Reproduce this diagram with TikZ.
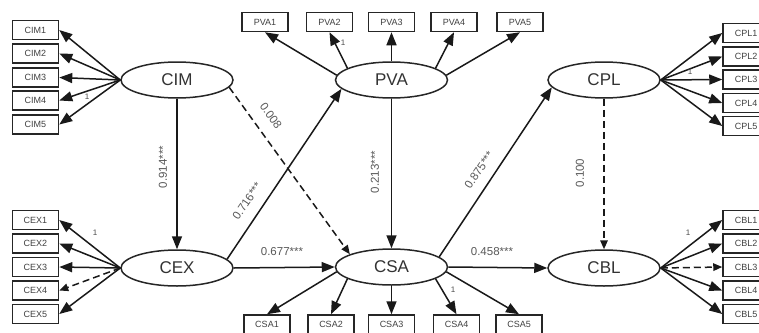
\documentclass[tikz,border=0pt]{standalone}
\usepackage{fontspec}
\setmainfont{Liberation Sans}
\usetikzlibrary{arrows.meta,shapes.geometric}
\begin{document}
\begin{tikzpicture}[x=1pt,y=-1pt,
 lat/.style={ellipse,draw=black!85,line width=1.5pt,minimum width=112pt,minimum height=36pt,inner sep=0pt,font=\fontsize{17}{17}\selectfont,text=black!80},
 ind/.style={rectangle,draw=black!85,line width=1.5pt,minimum width=46pt,minimum height=19pt,inner sep=0pt,font=\fontsize{9}{9}\selectfont,text=black!75},
 arr/.style={line width=1.5pt,draw=black!90,-{Triangle[length=13pt,width=10pt]}},
 darr/.style={line width=1.5pt,draw=black!90,dash pattern=on 7pt off 4pt,-{Triangle[length=9pt,width=7.5pt]}},
 coef/.style={font=\fontsize{11.5}{11.5}\selectfont,text=black!65,inner sep=1pt},
 one/.style={font=\fontsize{8}{8}\selectfont,text=black!70,inner sep=0pt}]
\useasboundingbox (0,0) rectangle (759,332);
\clip (0,0) rectangle (759,332);
\fill[white] (0,0) rectangle (759,332);

% latent variables
\node[lat] (CIM) at (177,80) {CIM};
\node[lat] (CEX) at (177,268) {CEX};
\node[lat] (PVA) at (391.5,80) {PVA};
\node[lat] (CSA) at (391.5,267) {CSA};
\node[lat] (CPL) at (604,80) {CPL};
\node[lat] (CBL) at (604,268) {CBL};

% CIM indicators
\node[ind] (CIM1) at (35.5,30) {CIM1};
\node[ind] (CIM2) at (35.5,53.5) {CIM2};
\node[ind] (CIM3) at (35.5,77.5) {CIM3};
\node[ind] (CIM4) at (35.5,100.5) {CIM4};
\node[ind] (CIM5) at (35.5,124.5) {CIM5};
% CEX indicators
\node[ind] (CEX1) at (35.5,220) {CEX1};
\node[ind] (CEX2) at (35.5,243.5) {CEX2};
\node[ind] (CEX3) at (35.5,267) {CEX3};
\node[ind] (CEX4) at (35.5,290.5) {CEX4};
\node[ind] (CEX5) at (35.5,314) {CEX5};
% PVA indicators
\node[ind] (PVA1) at (265,22) {PVA1};
\node[ind] (PVA2) at (329.5,22) {PVA2};
\node[ind] (PVA3) at (391.5,22) {PVA3};
\node[ind] (PVA4) at (454,22) {PVA4};
\node[ind] (PVA5) at (520,22) {PVA5};
% CSA indicators
\node[ind] (CSA1) at (267,324.5) {CSA1};
\node[ind] (CSA2) at (331,324.5) {CSA2};
\node[ind] (CSA3) at (391.5,324.5) {CSA3};
\node[ind] (CSA4) at (456.5,324.5) {CSA4};
\node[ind] (CSA5) at (519,324.5) {CSA5};
% CPL indicators
\node[ind] (CPL1) at (746,33) {CPL1};
\node[ind] (CPL2) at (746,56.5) {CPL2};
\node[ind] (CPL3) at (746,79.5) {CPL3};
\node[ind] (CPL4) at (746,103) {CPL4};
\node[ind] (CPL5) at (746,126) {CPL5};
% CBL indicators
\node[ind] (CBL1) at (746,220) {CBL1};
\node[ind] (CBL2) at (746,243.5) {CBL2};
\node[ind] (CBL3) at (746,267) {CBL3};
\node[ind] (CBL4) at (746,290.5) {CBL4};
\node[ind] (CBL5) at (746,314) {CBL5};

% measurement arrows
\foreach \i in {1,...,5} \draw[arr] (CIM.west) -- (CIM\i.east);
\foreach \i in {1,2,3,5} \draw[arr] (CEX.west) -- (CEX\i.east);
\draw[darr] (CEX.west) -- (CEX4.east);
\foreach \i in {1,...,5} \draw[arr] (CPL.east) -- (CPL\i.west);
\foreach \i in {1,2,4,5} \draw[arr] (CBL.east) -- (CBL\i.west);
\draw[darr] (CBL.east) -- (CBL3.west);
\draw[arr] (PVA.175) -- (PVA1.south);
\draw[arr] (PVA.165) -- (PVA2.south);
\draw[arr] (PVA.north) -- (PVA3.south);
\draw[arr] (PVA.15) -- (PVA4.south);
\draw[arr] (PVA.5) -- (PVA5.south);
\draw[arr] (CSA.185) -- (CSA1.north);
\draw[arr] (CSA.195) -- (CSA2.north);
\draw[arr] (CSA.south) -- (CSA3.north);
\draw[arr] (CSA.-15) -- (CSA4.north);
\draw[arr] (CSA.-5) -- (CSA5.north);

% structural paths
\draw[arr] (CIM.south) -- (CEX.north);
\draw[darr] (CIM.-8) -- (CSA.163);
\draw[arr] (CEX.10) -- (PVA.190);
\draw[arr] (CEX.east) -- (CSA.west);
\draw[arr] (PVA.south) -- (CSA.north);
\draw[arr] (CSA.12) -- (CPL.188);
\draw[arr] (CSA.east) -- (CBL.west);
\draw[darr] (CPL.south) -- (CBL.north);

% coefficients
\node[coef,rotate=90] (c1) at (163,167) {0.914***};
\node[coef,rotate=-54] (c2) at (271,116) {0.008};
\node[coef,rotate=56] (c3) at (247,201) {0.716***};
\node[coef] (c4) at (282,252) {0.677***};
\node[coef,rotate=90] (c5) at (375,172) {0.213***};
\node[coef,rotate=56] (c6) at (479,170) {0.875***};
\node[coef] (c7) at (492,252) {0.458***};
\node[coef,rotate=90] (c8) at (580,173) {0.100};

% fixed loadings
\node[one] (o1) at (87,97) {1};
\node[one] (o2) at (95,233) {1};
\node[one] (o3) at (343,43) {1};
\node[one] (o4) at (690,72) {1};
\node[one] (o5) at (688,233) {1};
\node[one] (o6) at (453,290) {1};
\end{tikzpicture}
\end{document}
